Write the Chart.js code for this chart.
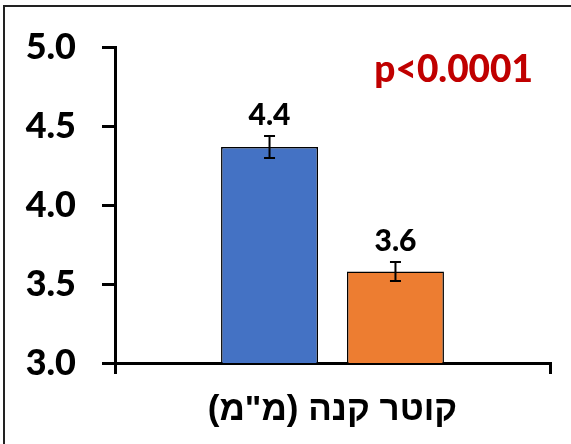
<!DOCTYPE html>
<html>
<head>
<meta charset="utf-8">
<script src="https://cdn.jsdelivr.net/npm/chart.js@4.4.1/dist/chart.umd.min.js"></script>
<style>
  html, body { margin: 0; padding: 0; background: #fff; }
  #wrap { position: relative; width: 571px; height: 444px; overflow: hidden; }
  canvas { display: block; }
</style>
</head>
<body>
<div id="wrap"><canvas id="c" width="571" height="444"></canvas></div>
<script>
// Tube diameter (mm), two groups, mean ± error
const categories = ['\u200Fקוטר קנה (מ"מ)\u200F'];
const groupA = [4.37];
const groupAErr = [0.07];
const groupB = [3.58];
const groupBErr = [0.06];
const yMin = 3.0;
const yMax = 5.0;
const yStep = 0.5;
const pValueText = 'p<0.0001';

const numFont = 'Lato, "Open Sans", sans-serif';
const hebFont = '"Liberation Sans", Arial, "DejaVu Sans", sans-serif';
const heavy = '900';

// Error bars and value labels drawn on top of each bar
const errorBarsPlugin = {
  id: 'errorBars',
  afterDatasetsDraw(chart) {
    const ctx = chart.ctx;
    const yScale = chart.scales.y;
    ctx.save();
    chart.data.datasets.forEach((ds, di) => {
      const meta = chart.getDatasetMeta(di);
      meta.data.forEach((bar, i) => {
        const v = ds.data[i];
        const e = ds.errors[i];
        const x = bar.x;
        const yTop = yScale.getPixelForValue(v + e);
        const yBot = yScale.getPixelForValue(v - e);
        const cap = 5.5;
        ctx.strokeStyle = '#000';
        ctx.lineWidth = 2;
        ctx.beginPath();
        ctx.moveTo(x, yTop); ctx.lineTo(x, yBot);
        ctx.moveTo(x - cap, yTop); ctx.lineTo(x + cap, yTop);
        ctx.moveTo(x - cap, yBot); ctx.lineTo(x + cap, yBot);
        ctx.stroke();

        ctx.fillStyle = '#000';
        ctx.font = heavy + ' 30px ' + numFont;
        ctx.textAlign = 'center';
        ctx.textBaseline = 'alphabetic';
        ctx.fillText(v.toFixed(1), x, yTop - 11);
      });
    });
    ctx.restore();
  }
};

// Significance note and the frame lines of the figure
const annotationPlugin = {
  id: 'annotation',
  afterDraw(chart) {
    const ctx = chart.ctx;
    const area = chart.chartArea;
    ctx.save();
    ctx.fillStyle = '#C00000';
    ctx.font = heavy + ' 37px ' + numFont;
    ctx.textAlign = 'right';
    ctx.textBaseline = 'alphabetic';
    ctx.fillText(pValueText, area.right - 17, 82);

    ctx.strokeStyle = '#222';
    ctx.lineWidth = 2;
    ctx.beginPath();
    ctx.moveTo(4, 444); ctx.lineTo(4, 6); ctx.lineTo(571, 6);
    ctx.stroke();
    ctx.restore();
  }
};

new Chart(document.getElementById('c'), {
  type: 'bar',
  data: {
    labels: categories,
    datasets: [
      {
        label: 'A',
        data: groupA,
        errors: groupAErr,
        backgroundColor: '#4472C4',
        borderColor: '#000',
        borderWidth: 1.5,
        categoryPercentage: 0.579,
        barPercentage: 0.77
      },
      {
        label: 'B',
        data: groupB,
        errors: groupBErr,
        backgroundColor: '#ED7D31',
        borderColor: '#000',
        borderWidth: 1.5,
        categoryPercentage: 0.579,
        barPercentage: 0.77
      }
    ]
  },
  options: {
    responsive: false,
    devicePixelRatio: 1,
    animation: false,
    layout: { padding: { left: 0, top: 45, right: 21, bottom: 0 } },
    plugins: {
      legend: { display: false },
      tooltip: { enabled: false }
    },
    scales: {
      x: {
        offset: true,
        grid: {
          offset: true,
          drawOnChartArea: false,
          drawTicks: true,
          tickLength: 11,
          lineWidth: 3,
          color: '#000'
        },
        border: { display: true, color: '#000', width: 3 },
        ticks: {
          color: '#000',
          font: { family: hebFont, size: 35, weight: 'bold' },
          padding: 15
        },
        afterFit(scale) { scale.height = 81; }
      },
      y: {
        min: yMin,
        max: yMax,
        grid: {
          drawOnChartArea: false,
          drawTicks: true,
          tickLength: 13,
          lineWidth: 3,
          color: '#000'
        },
        border: { display: true, color: '#000', width: 3 },
        ticks: {
          stepSize: yStep,
          color: '#000',
          font: { family: numFont, size: 36, weight: heavy },
          padding: 26,
          callback: (v) => Number(v).toFixed(1)
        },
        afterFit(scale) { scale.width = 115; }
      }
    }
  },
  plugins: [errorBarsPlugin, annotationPlugin]
});
</script>
</body>
</html>
